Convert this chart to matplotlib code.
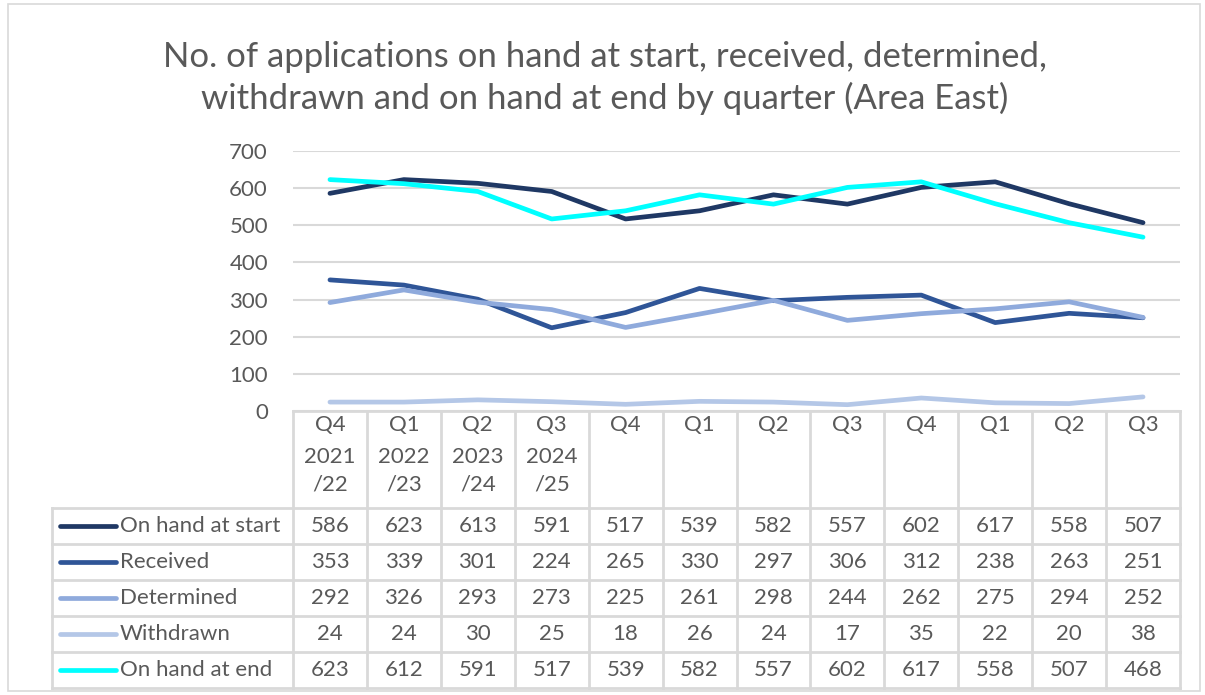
import matplotlib.pyplot as plt
from matplotlib.patches import Rectangle

# data
quarters = ['Q4', 'Q1', 'Q2', 'Q3', 'Q4', 'Q1', 'Q2', 'Q3', 'Q4', 'Q1', 'Q2', 'Q3']
years = ['2021\n/22', '2022\n/23', '2023\n/24', '2024\n/25'] + [''] * 8
series_names = ['On hand at start', 'Received', 'Determined', 'Withdrawn', 'On hand at end']
on_hand_start = [586, 623, 613, 591, 517, 539, 582, 557, 602, 617, 558, 507]
received = [353, 339, 301, 224, 265, 330, 297, 306, 312, 238, 263, 251]
determined = [292, 326, 293, 273, 225, 261, 298, 244, 262, 275, 294, 252]
withdrawn = [24, 24, 30, 25, 18, 26, 24, 17, 35, 22, 20, 38]
on_hand_end = [623, 612, 591, 517, 539, 582, 557, 602, 617, 558, 507, 468]
colors = ['#1f3864', '#2f5597', '#8faadc', '#b4c7e7', '#00ffff']
all_series = [on_hand_start, received, determined, withdrawn, on_hand_end]

W, H = 1205, 695
TXT = '#595959'
GRID = '#d9d9d9'
FS = 16
plt.rcParams['font.family'] = ['Lato', 'DejaVu Sans']

fig = plt.figure(figsize=(W / 100, H / 100), dpi=100)
fig.patches.append(Rectangle((8 / W, 4 / H), 1192 / W, 687 / H, transform=fig.transFigure,
                             fill=False, edgecolor=GRID, lw=1.2))

fig.text(605 / W, 1 - 78 / H, 'No. of applications on hand at start, received, determined,\n'
         'withdrawn and on hand at end by quarter (Area East)',
         ha='center', va='center', fontsize=25, color=TXT, linespacing=1.3)

# plot area
x0, x1 = 293, 1180
ax = fig.add_axes([x0 / W, 1 - 411 / H, (x1 - x0) / W, (411 - 151) / H])
xs = list(range(len(quarters)))
for vals, c in zip(all_series, colors):
    ax.plot(xs, vals, color=c, lw=3.4, solid_capstyle='round', solid_joinstyle='round', zorder=3)
ax.set_xlim(-0.5, len(quarters) - 0.5)
ax.set_ylim(0, 700)
ax.set_yticks(range(0, 701, 100))
ax.yaxis.grid(True, color=GRID, lw=1.5)
ax.set_axisbelow(True)
ax.set_xticks([])
for s in ['top', 'right', 'left']:
    ax.spines[s].set_visible(False)
ax.spines['bottom'].set_color(GRID)
ax.spines['bottom'].set_linewidth(2)
ax.tick_params(axis='y', length=0, pad=18, labelsize=FS, labelcolor=TXT)

# data table
t_top, t_bot = 411, 688
ht = 97
rh = (t_bot - t_top - ht) / len(series_names)
tax = fig.add_axes([x0 / W, 1 - t_bot / H, (x1 - x0) / W, (t_bot - t_top) / H])
tax.set_xlim(-0.5, len(quarters) - 0.5)
tax.set_ylim(t_bot - t_top, 0)
tax.axis('off')
unit = (x1 - x0) / len(quarters)
left = -0.5 - (x0 - 52) / unit
lw = 2
for i in range(len(quarters) + 1):
    tax.plot([i - 0.5, i - 0.5], [0, t_bot - t_top], color=GRID, lw=lw, clip_on=False)
for r in range(len(series_names) + 1):
    y = ht + r * rh
    tax.plot([left, len(quarters) - 0.5], [y, y], color=GRID, lw=lw, clip_on=False)
tax.plot([left, left], [ht, t_bot - t_top], color=GRID, lw=lw, clip_on=False)

for i, (q, yr) in enumerate(zip(quarters, years)):
    tax.text(i, 4, q, ha='center', va='top', fontsize=FS, color=TXT)
    if yr:
        tax.text(i, 36, yr, ha='center', va='top', fontsize=FS, color=TXT, linespacing=1.45)

for r, (name, vals, c) in enumerate(zip(series_names, all_series, colors)):
    yc = ht + (r + 0.5) * rh
    lx0 = left + 8 / unit
    lx1 = left + 64 / unit
    tax.plot([lx0, lx1], [yc, yc], color=c, lw=3.4, solid_capstyle='round', clip_on=False)
    tax.text(left + 68 / unit, yc, name, ha='left', va='center', fontsize=FS, color=TXT, clip_on=False)
    for i, v in enumerate(vals):
        tax.text(i, yc, str(v), ha='center', va='center', fontsize=FS, color=TXT)

fig.savefig('out.png', dpi=100)
